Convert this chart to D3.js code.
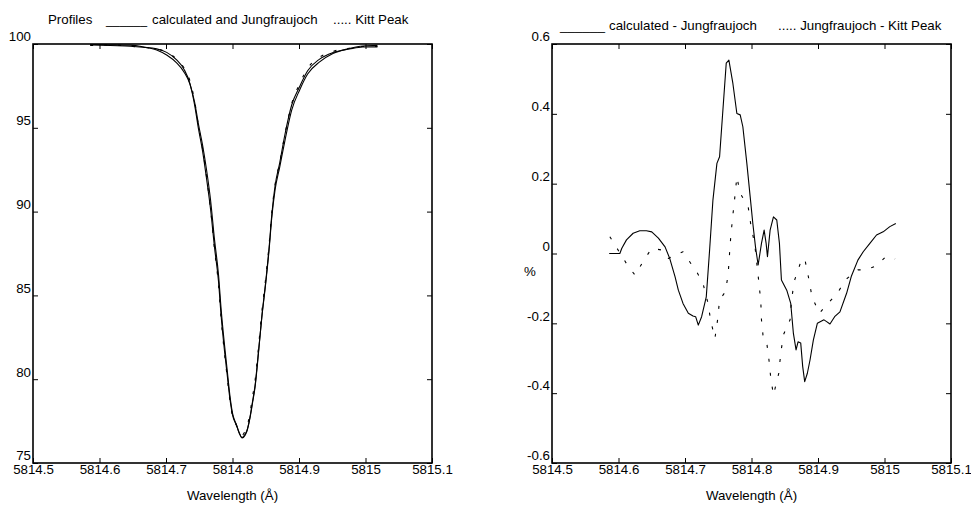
<!DOCTYPE html>
<html>
<head>
<meta charset="utf-8">
<script src="https://cdn.jsdelivr.net/npm/d3@7"></script>
<style>
  body { margin: 0; background: #fff; }
  svg { display: block; font-family: "Liberation Sans", Arial, sans-serif; }
</style>
</head>
<body>
<svg id="chart"></svg>
<script>
// Line profiles (intensity %, vs wavelength in Å)
const profWave = [5814.586, 5814.616, 5814.646, 5814.665, 5814.686, 5814.701, 5814.716, 5814.727, 5814.736,
  5814.743, 5814.749, 5814.755, 5814.761, 5814.767, 5814.773, 5814.779, 5814.783, 5814.788, 5814.792,
  5814.796, 5814.800, 5814.806, 5814.810, 5814.8145, 5814.819, 5814.822, 5814.826, 5814.830, 5814.834,
  5814.839, 5814.844, 5814.850, 5814.855, 5814.859, 5814.864, 5814.871, 5814.879, 5814.889, 5814.901,
  5814.913, 5814.931, 5814.951, 5814.976, 5814.996, 5815.018];
const profCalc = [99.96, 99.95, 99.93, 99.84, 99.64, 99.34, 98.87, 98.33, 97.61, 96.54, 95.17, 93.97, 92.48,
  90.69, 88.31, 86.22, 84.13, 82.04, 80.55, 79.06, 77.98, 77.27, 76.79, 76.52, 76.73, 76.97, 77.68, 78.64,
  79.65, 81.62, 83.65, 85.74, 87.71, 89.62, 91.29, 92.66, 94.27, 96.06, 97.26, 98.21, 98.93, 99.43, 99.73,
  99.88, 99.92];
const profJung = [99.96, 99.91, 99.87, 99.81, 99.71, 99.50, 99.05, 98.50, 97.64, 96.37, 94.90, 93.61, 91.96,
  90.14, 87.85, 85.82, 83.73, 81.68, 80.27, 78.87, 77.87, 77.25, 76.82, 76.49, 76.66, 76.94, 77.63, 78.55,
  79.55, 81.53, 83.70, 85.84, 87.83, 89.76, 91.53, 92.91, 94.63, 96.36, 97.46, 98.40, 99.10, 99.49, 99.70,
  99.82, 99.83];
const profKitt = [99.91, 99.95, 99.87, 99.80, 99.71, 99.52, 99.10, 98.58, 97.81, 96.61, 95.07, 93.74, 92.07,
  90.14, 87.73, 85.60, 83.55, 81.52, 80.13, 78.75, 77.80, 77.23, 76.88, 76.66, 76.91, 77.20, 77.93, 78.93,
  79.95, 81.89, 83.99, 86.06, 88.03, 89.92, 91.61, 92.94, 94.65, 96.44, 97.63, 98.55, 99.21, 99.56, 99.75,
  99.85, 99.85];

// Differences (%)
const diffCalcWave = [5814.586, 5814.602, 5814.605, 5814.612, 5814.622, 5814.632, 5814.642, 5814.650, 5814.660,
  5814.670, 5814.677, 5814.685, 5814.690, 5814.697, 5814.705, 5814.712, 5814.716, 5814.720, 5814.725,
  5814.732, 5814.737, 5814.742, 5814.748, 5814.752, 5814.757, 5814.762, 5814.766, 5814.772, 5814.778,
  5814.783, 5814.787, 5814.793, 5814.798, 5814.802, 5814.806, 5814.810, 5814.815, 5814.819, 5814.822,
  5814.824, 5814.828, 5814.833, 5814.838, 5814.842, 5814.845, 5814.853, 5814.859, 5814.863, 5814.867,
  5814.870, 5814.874, 5814.877, 5814.880, 5814.884, 5814.888, 5814.893, 5814.899, 5814.904, 5814.909,
  5814.913, 5814.918, 5814.925, 5814.933, 5814.943, 5814.950, 5814.960, 5814.968, 5814.978, 5814.988,
  5814.998, 5815.008, 5815.017];
const diffCalc = [0.000, 0.000, 0.015, 0.039, 0.058, 0.065, 0.065, 0.062, 0.044, 0.019, -0.014, -0.066, -0.105,
  -0.143, -0.171, -0.179, -0.181, -0.205, -0.181, -0.124, 0.010, 0.153, 0.258, 0.277, 0.411, 0.545, 0.554,
  0.487, 0.401, 0.397, 0.363, 0.258, 0.163, 0.086, 0.019, -0.033, 0.029, 0.067, 0.029, -0.009, 0.067, 0.105,
  0.096, 0.029, -0.076, -0.105, -0.143, -0.229, -0.276, -0.253, -0.256, -0.324, -0.367, -0.343, -0.305,
  -0.248, -0.200, -0.195, -0.190, -0.195, -0.202, -0.181, -0.167, -0.114, -0.066, -0.019, 0.005, 0.029,
  0.053, 0.062, 0.077, 0.086];
const diffKittWave = [5814.587, 5814.615, 5814.625, 5814.637, 5814.650, 5814.665, 5814.675, 5814.697, 5814.712,
  5814.716, 5814.727, 5814.734, 5814.739, 5814.745, 5814.749, 5814.752, 5814.761, 5814.765, 5814.767,
  5814.769, 5814.772, 5814.775, 5814.778, 5814.783, 5814.795, 5814.799, 5814.805, 5814.811, 5814.814,
  5814.815, 5814.818, 5814.823, 5814.826, 5814.829, 5814.833, 5814.841, 5814.844, 5814.848, 5814.858,
  5814.860, 5814.864, 5814.875, 5814.880, 5814.886, 5814.891, 5814.902, 5814.913, 5814.929, 5814.942,
  5814.960, 5814.972, 5814.988, 5815.002, 5815.016];
const diffKitt = [0.048, -0.038, -0.062, -0.023, 0.015, 0.010, -0.014, 0.005, -0.038, -0.047, -0.085, -0.138,
  -0.195, -0.243, -0.190, -0.133, -0.109, -0.057, 0.000, 0.053, 0.110, 0.163, 0.220, 0.172, 0.134, 0.082,
  0.024, -0.081, -0.138, -0.190, -0.248, -0.257, -0.300, -0.357, -0.405, -0.343, -0.286, -0.233, -0.190,
  -0.138, -0.081, -0.019, -0.014, -0.071, -0.124, -0.171, -0.147, -0.114, -0.074, -0.047, -0.047, -0.035,
  -0.009, -0.016];

// Ticks
const xTicks = [5814.5, 5814.6, 5814.7, 5814.8, 5814.9, 5815, 5815.1];
const xTickLabels = ["5814.5", "5814.6", "5814.7", "5814.8", "5814.9", "5815", "5815.1"];
const yTicksProf = [75, 80, 85, 90, 95, 100];
const yLabelsProf = ["75", "80", "85", "90", "95", "100"];
const yTicksDiff = [-0.6, -0.4, -0.2, 0, 0.2, 0.4, 0.6];
const yLabelsDiff = ["-0.6", "-0.4", "-0.2", "0", "0.2", "0.4", "0.6"];

(function () {
  const W = 971, H = 506;
  const TOP = 44, BOTTOM = 463;
  const FS = 13.3;
  const INK = "#000";

  const svg = d3.select("#chart").attr("width", W).attr("height", H);

  function panel(left, right, yDomain, yTicks, yLabels) {
    const x = d3.scaleLinear().domain([5814.5, 5815.1]).range([left, right]);
    const y = d3.scaleLinear().domain(yDomain).range([BOTTOM, TOP]);
    const g = svg.append("g");

    const style = sel => {
      sel.select(".domain").remove();
      sel.selectAll(".tick line").attr("stroke", INK);
      sel.selectAll("text").attr("fill", INK).attr("font-size", FS)
        .attr("font-family", '"Liberation Sans", Arial, sans-serif');
    };

    g.append("g").attr("transform", `translate(0,${BOTTOM})`)
      .call(d3.axisBottom(x).tickValues(xTicks).tickFormat((d, i) => xTickLabels[i])
        .tickSizeInner(-5).tickSizeOuter(0).tickPadding(2))
      .call(style);
    g.append("g").attr("transform", `translate(0,${TOP})`)
      .call(d3.axisTop(x).tickValues(xTicks).tickFormat("")
        .tickSizeInner(-5).tickSizeOuter(0))
      .call(style);
    g.append("g").attr("transform", `translate(${left},0)`)
      .call(d3.axisLeft(y).tickValues(yTicks).tickFormat((d, i) => yLabels[i])
        .tickSizeInner(-5).tickSizeOuter(0).tickPadding(2))
      .call(style)
      .selectAll("text").attr("dy", "-0.24em");
    g.append("g").attr("transform", `translate(${right},0)`)
      .call(d3.axisRight(y).tickValues(yTicks).tickFormat("")
        .tickSizeInner(-5).tickSizeOuter(0))
      .call(style);

    // box
    g.append("rect")
      .attr("x", left).attr("y", TOP)
      .attr("width", right - left).attr("height", BOTTOM - TOP)
      .attr("fill", "none").attr("stroke", INK).attr("stroke-width", 1.6);

    g.append("text")
      .attr("x", (left + right) / 2).attr("y", 499.5)
      .attr("text-anchor", "middle").attr("font-size", FS).attr("fill", INK)
      .text("Wavelength (Å)");

    return { g, x, y };
  }

  function drawLine(p, xs, ys, dashed, curve) {
    const pts = xs.map((w, i) => [w, ys[i]]);
    p.g.append("path")
      .datum(pts)
      .attr("fill", "none")
      .attr("stroke", INK)
      .attr("stroke-width", 1.1)
      .attr("stroke-linejoin", "round")
      .attr("stroke-dasharray", dashed ? "3,11" : null)
      .attr("d", d3.line().x(d => p.x(d[0])).y(d => p.y(d[1])).curve(curve));
  }

  // Left: profiles
  const pL = panel(33, 432, [75, 100], yTicksProf, yLabelsProf);
  drawLine(pL, profWave, profKitt, true, d3.curveMonotoneX);
  drawLine(pL, profWave, profJung, false, d3.curveMonotoneX);
  drawLine(pL, profWave, profCalc, false, d3.curveMonotoneX);

  // Right: differences
  const pR = panel(552, 951, [-0.6, 0.6], yTicksDiff, yLabelsDiff);
  drawLine(pR, diffKittWave, diffKitt, true, d3.curveLinear);
  drawLine(pR, diffCalcWave, diffCalc, false, d3.curveLinear);

  svg.append("text").attr("x", 530).attr("y", 276)
    .attr("text-anchor", "middle").attr("font-size", FS).attr("fill", INK).text("%");

  // Titles
  const title = (x, y, t) => svg.append("text").attr("x", x).attr("y", y)
    .attr("font-size", FS).attr("fill", INK).text(t);
  title(48, 24, "Profiles");
  title(106, 24, "______").attr("textLength", 41).attr("lengthAdjust", "spacingAndGlyphs");
  title(152, 24, "calculated and Jungfraujoch");
  title(333, 24, "..... Kitt Peak");

  title(560, 30, "______").attr("textLength", 45).attr("lengthAdjust", "spacingAndGlyphs");
  title(609, 30, "calculated - Jungfraujoch");
  title(778, 30, "..... Jungfraujoch - Kitt Peak");
})();
</script>
</body>
</html>
